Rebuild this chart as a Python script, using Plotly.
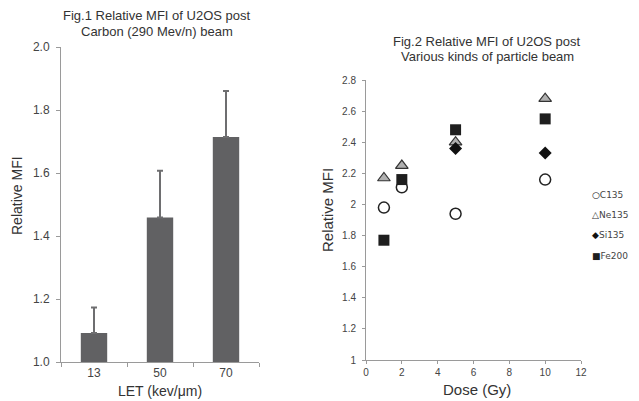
import plotly.graph_objects as go

# page viewport is 639x401; the page body adds an 8px offset
OFF = 8
W, H = 639 - OFF, 401 - OFF

# ---- Fig.1 data ----
let_labels = ["13", "50", "70"]
mfi_carbon = [1.092, 1.459, 1.714]
mfi_carbon_err = [0.081, 0.148, 0.146]

# ---- Fig.2 data ----
c135_dose = [1, 2, 5, 10]
c135_mfi = [1.98, 2.11, 1.94, 2.16]
ne135_dose = [1, 2, 5, 10]
ne135_mfi = [2.17, 2.25, 2.40, 2.68]
si135_dose = [5, 10]
si135_mfi = [2.36, 2.33]
fe200_dose = [1, 2, 5, 10]
fe200_mfi = [1.77, 2.16, 2.48, 2.55]

legend_names = ["C135", "Ne135", "Si135", "Fe200"]
legend_glyphs = ["○", "△", "◆", "■"]

title1_lines = ["Fig.1 Relative MFI of U2OS post", "Carbon (290 Mev/n) beam"]
title2_lines = ["Fig.2 Relative MFI of U2OS post", "Various kinds of particle beam"]

def px_x(x):
    return (x - OFF) / W

def px_y(y):
    return 1 - (y - OFF) / H

fig = go.Figure()

fig.add_trace(go.Bar(
    x=let_labels, y=[v - 1.0 for v in mfi_carbon], base=1.0,
    marker=dict(color="#616163", line=dict(width=0)),
    width=0.4,
    error_y=dict(type="data", symmetric=False, array=mfi_carbon_err,
                 arrayminus=[0, 0, 0], color="#6e6e70", thickness=2, width=3),
    xaxis="x", yaxis="y", showlegend=False,
))

fig.add_trace(go.Scatter(
    x=c135_dose, y=c135_mfi, mode="markers", name="C135",
    marker=dict(symbol="circle", size=11, color="white",
                line=dict(color="#222", width=1.5)),
    xaxis="x2", yaxis="y2", showlegend=False,
))
fig.add_trace(go.Scatter(
    x=ne135_dose, y=ne135_mfi, mode="markers", name="Ne135",
    marker=dict(symbol="triangle-up", size=11, color="#b0b0b0",
                line=dict(color="#333", width=1.2)),
    xaxis="x2", yaxis="y2", showlegend=False,
))
fig.add_trace(go.Scatter(
    x=si135_dose, y=si135_mfi, mode="markers", name="Si135",
    marker=dict(symbol="diamond", size=10, color="#111",
                line=dict(color="#111", width=0)),
    xaxis="x2", yaxis="y2", showlegend=False,
))
fig.add_trace(go.Scatter(
    x=fe200_dose, y=fe200_mfi, mode="markers", name="Fe200",
    marker=dict(symbol="square", size=11, color="#1e1e1e",
                line=dict(color="#111", width=0)),
    xaxis="x2", yaxis="y2", showlegend=False,
))

axis_line = "#9a9a9a"
tick_font1 = dict(family="Liberation Sans, Arial", size=12, color="#444")
tick_font2 = dict(family="Liberation Sans, Arial", size=10, color="#444")

fig.update_layout(
    width=W, height=H, autosize=False,
    margin=dict(l=0, r=0, t=0, b=0, pad=0, autoexpand=False),
    paper_bgcolor="white", plot_bgcolor="white",
    showlegend=False,
    xaxis=dict(domain=[px_x(61), px_x(259)], anchor="y", type="category",
               range=[-0.5, 2.5], showline=True, linecolor=axis_line, linewidth=1,
               ticks="outside", ticklen=4, tickcolor=axis_line, tickson="boundaries",
               showgrid=False, zeroline=False, tickfont=tick_font1, automargin=False),
    yaxis=dict(domain=[px_y(362), px_y(47)], anchor="x", range=[1.0, 2.0],
               dtick=0.2, tickformat=".1f", showline=True, linecolor=axis_line,
               linewidth=1, ticks="outside", ticklen=4, tickcolor=axis_line,
               showgrid=False, zeroline=False, tickfont=tick_font1,
               ticklabelstandoff=4, automargin=False),
    xaxis2=dict(domain=[px_x(366), px_x(581)], anchor="y2", range=[0, 12],
                dtick=2, showline=True, linecolor=axis_line, linewidth=1,
                ticks="outside", ticklen=3, tickcolor=axis_line,
                showgrid=False, zeroline=False, tickfont=tick_font2, automargin=False),
    yaxis2=dict(domain=[px_y(360), px_y(80)], anchor="x2", range=[1, 2.8],
                dtick=0.2, showline=True, linecolor=axis_line, linewidth=1,
                ticks="outside", ticklen=3, tickcolor=axis_line,
                showgrid=False, zeroline=False, tickfont=tick_font2,
                ticklabelstandoff=4, automargin=False),
)

title_font = dict(family="Liberation Sans, Arial", size=13, color="#333")

def note(text, x, y, font, **kw):
    d = dict(text=text, x=px_x(x), y=px_y(y), xref="paper", yref="paper",
             showarrow=False, font=font, xanchor="center", yanchor="middle",
             borderpad=0)
    d.update(kw)
    return d

ann = []
for line, yy in zip(title1_lines, [16, 31.5]):
    ann.append(note(line, 157, yy, title_font))
for line, yy in zip(title2_lines, [41, 57]):
    ann.append(note(line, 487, yy, title_font))
ann.append(note("Relative MFI", 17, 196,
                dict(family="Liberation Sans, Arial", size=14, color="#333"), textangle=-90))
ann.append(note("LET (kev/μm)", 160, 391,
                dict(family="Liberation Sans, Arial", size=14, color="#333")))
ann.append(note("Relative MFI", 327, 210,
                dict(family="Liberation Sans, Arial", size=15, color="#333"), textangle=-90))
ann.append(note("Dose (Gy)", 477, 389,
                dict(family="Liberation Sans, Arial", size=15, color="#333")))

leg_y = [195, 215, 235, 256]
leg_colors = ["#111", "#333", "#111", "#1e1e1e"]
for name, glyph, col, yy in zip(legend_names, legend_glyphs, leg_colors, leg_y):
    ann.append(note(f"<span style='color:{col}'>{glyph}</span>{name}", 591, yy,
                    dict(family="DejaVu Sans", size=9, color="#444"), xanchor="left"))

fig.update_layout(annotations=ann)

fig.write_html("out.html")
